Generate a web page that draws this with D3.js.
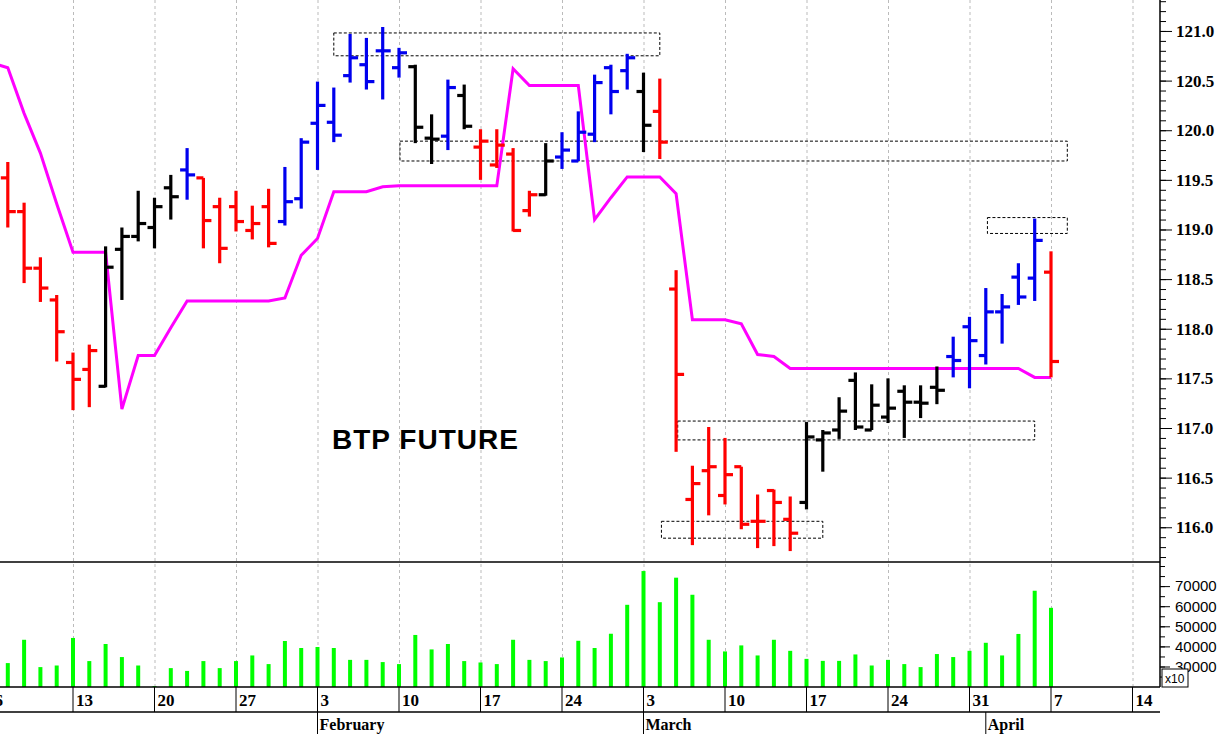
<!DOCTYPE html>
<html>
<head>
<meta charset="utf-8">
<script src="https://cdn.jsdelivr.net/npm/d3@7"></script>
<style>
  body { margin: 0; background: #fff; }
  svg { display: block; }
</style>
</head>
<body>
<svg id="chart" width="1231" height="734"></svg>
<script>
// trading days from 7 Jan 2014, one bar each
const firstDate = new Date(2014, 0, 7);
const open  = [119.52,119.18,118.61,118.29,117.66,117.59,117.42,118.80,118.93,119.02,119.42,119.60,119.52,119.23,119.23,118.99,119.23,119.08,119.31,120.07,120.08,120.55,120.66,120.80,120.63,120.64,119.92,119.94,120.35,119.83,119.65,119.76,119.19,119.35,119.73,119.69,119.96,120.63,120.60,120.39,120.19,118.40,116.28,116.57,116.32,116.61,116.06,116.37,116.08,116.25,116.88,116.98,117.48,116.98,117.11,117.37,117.26,117.41,117.72,118.02,117.73,118.17,118.52,118.51,118.57];
const high  = [119.68,119.27,118.72,118.34,117.76,117.84,118.83,119.02,119.39,119.32,119.55,119.82,119.52,119.32,119.39,119.24,119.41,119.63,119.92,120.49,120.43,120.97,120.93,121.04,120.83,120.66,120.16,120.51,120.46,120.01,120.01,119.82,119.39,119.87,119.98,120.19,120.56,120.66,120.77,120.58,120.52,118.59,116.62,117.01,116.90,116.61,116.33,116.38,116.31,117.06,116.98,117.31,117.56,117.44,117.50,117.43,117.43,117.62,117.92,118.12,118.41,118.35,118.66,119.11,118.78];
const low   = [119.02,118.46,118.27,117.67,117.18,117.21,117.41,118.29,118.88,118.81,119.10,119.30,118.81,118.66,118.98,118.90,118.82,119.04,119.21,119.60,119.88,120.48,120.41,120.31,120.53,119.87,119.66,119.80,120.01,119.50,119.62,118.98,119.13,119.34,119.61,119.69,119.88,120.16,120.41,119.78,119.71,116.76,115.82,116.12,116.23,115.98,115.79,115.81,115.76,116.18,116.56,116.89,116.98,116.98,117.05,116.90,117.10,117.24,117.51,117.40,117.64,117.85,118.24,118.28,117.51];
const close = [119.18,118.61,118.41,117.97,117.49,117.78,118.62,118.93,119.06,119.23,119.33,119.55,119.09,118.81,119.08,119.06,118.86,119.28,119.88,120.25,119.95,120.73,120.49,120.80,120.78,120.03,119.91,120.43,120.04,119.89,119.85,118.99,119.35,119.69,119.80,119.98,120.48,120.39,120.73,120.05,119.88,117.54,116.44,116.61,116.53,116.03,116.06,116.25,115.94,116.91,116.95,117.17,117.01,117.23,117.20,117.26,117.25,117.38,117.68,117.88,118.17,118.22,118.32,118.89,117.67];
// r = red, k = black, b = blue
const barColor = "rrrrrrkkkkkbrrrrrbbbbbbbbkkbkrrrrkbbbbbkrrrrrrrrrkkkkkkkkkbbbbbbr".split("");
// stop line starts one day earlier (6 Jan) than the bars
const stopLine = [120.68,120.63,120.17,119.77,119.26,118.77,118.77,118.77,117.19,117.73,117.73,118.01,118.28,118.28,118.28,118.28,118.28,118.28,118.31,118.74,118.91,119.38,119.38,119.38,119.43,119.44,119.44,119.44,119.44,119.44,119.44,119.44,120.62,120.45,120.45,120.45,120.45,119.10,119.32,119.53,119.53,119.53,119.36,118.09,118.09,118.09,118.05,117.74,117.72,117.60,117.60,117.60,117.60,117.60,117.60,117.60,117.60,117.60,117.60,117.60,117.60,117.60,117.60,117.60,117.51,117.51];
const volume = [31700,43300,29700,30500,44200,32700,41200,34700,30500,20300,29200,27800,32700,29200,32700,35500,31200,42700,39200,39700,39200,33300,33300,32200,31200,45700,38500,41200,32700,32000,31200,43300,33300,32700,34500,42800,39200,46300,60700,77500,62000,74200,65700,43300,37500,40500,35500,43300,37800,33800,32800,32800,36000,30500,33300,31200,29700,36200,34700,37800,41800,35500,46200,67700,59200];
// dotted boxes: trading-day span and price span
const boxFrom   = [16, 20.06, 37.1, 36.1, 56.1];
const boxTo     = [36, 61, 59, 46, 61];
const boxTop    = [120.98, 119.89, 117.07, 116.06, 119.12];
const boxBottom = [120.75, 119.69, 116.88, 115.89, 118.96];
const priceTicks = [116.0, 116.5, 117.0, 117.5, 118.0, 118.5, 119.0, 119.5, 120.0, 120.5, 121.0];
const volumeTicks = [30000, 40000, 50000, 60000, 70000];
const months = [{name: "February", date: new Date(2014, 1, 3)}, {name: "March", date: new Date(2014, 2, 3)}, {name: "April", date: new Date(2014, 3, 1)}];
const title = "BTP FUTURE";

// trading-day index, Monday 13 Jan 2014 = 0
const base = new Date(2014, 0, 13);
const dayIndex = d => {
  const days = Math.round((d - base) / 864e5);
  return Math.floor(days / 7) * 5 + (d.getDay() + 6) % 7;
};
const k0 = dayIndex(firstDate);

const svg = d3.select("#chart");
const axisX = 1160, priceBottom = 562, volBottom = 687;
const x = d3.scaleLinear().domain([0, 60]).range([73, 1051]);
const y = d3.scaleLinear().domain([115.65, 121.312]).range([priceBottom, 0]);
const yv = d3.scaleLinear().domain([19800, 82000]).range([volBottom, priceBottom]);

const mondays = d3.timeMonday.range(new Date(2014, 0, 6), new Date(2014, 3, 15));

// grid
svg.append("g").selectAll("line").data(mondays).join("line")
  .attr("x1", d => x(dayIndex(d)) + 0.5).attr("x2", d => x(dayIndex(d)) + 0.5)
  .attr("y1", 0).attr("y2", volBottom)
  .attr("stroke", "#bbb").attr("stroke-dasharray", "3,3");

// boxes
svg.append("g").selectAll("rect").data(boxFrom).join("rect")
  .attr("x", (d, i) => x(d)).attr("width", (d, i) => x(boxTo[i]) - x(d))
  .attr("y", (d, i) => y(boxTop[i])).attr("height", (d, i) => y(boxBottom[i]) - y(boxTop[i]))
  .attr("fill", "none").attr("stroke", "#000").attr("stroke-width", 1).attr("stroke-dasharray", "3,2");

// stop line
svg.append("path").datum(stopLine)
  .attr("d", d3.line().x((d, i) => x(k0 - 1 + i)).y(d => y(d)))
  .attr("fill", "none").attr("stroke", "#ff00ff").attr("stroke-width", 3);

// OHLC bars
const colors = {r: "#ff0000", k: "#000000", b: "#0000ee"};
const bars = svg.append("g").selectAll("g").data(open).join("g")
  .attr("stroke", (d, i) => colors[barColor[i]]).attr("stroke-width", 3.2);
bars.append("line").attr("x1", (d, i) => x(k0 + i)).attr("x2", (d, i) => x(k0 + i))
  .attr("y1", (d, i) => y(high[i])).attr("y2", (d, i) => y(low[i]));
bars.append("line").attr("x1", (d, i) => x(k0 + i) - 7).attr("x2", (d, i) => x(k0 + i))
  .attr("y1", d => y(d)).attr("y2", d => y(d));
bars.append("line").attr("x1", (d, i) => x(k0 + i)).attr("x2", (d, i) => x(k0 + i) + 8)
  .attr("y1", (d, i) => y(close[i])).attr("y2", (d, i) => y(close[i]));

// volume
svg.append("g").selectAll("line").data(volume).join("line")
  .attr("x1", (d, i) => x(k0 + i)).attr("x2", (d, i) => x(k0 + i))
  .attr("y1", volBottom).attr("y2", d => yv(d))
  .attr("stroke", "#00ff00").attr("stroke-width", 4);

// title
svg.append("text").attr("x", 332).attr("y", 449).text(title)
  .attr("font-family", "Liberation Sans, Arial").attr("font-weight", "bold").attr("font-size", 28)
  .attr("textLength", 186);

// frame lines
const frame = svg.append("g").attr("stroke", "#000").attr("stroke-width", 1.5);
frame.append("line").attr("x1", axisX).attr("x2", axisX).attr("y1", 0).attr("y2", volBottom);
frame.append("line").attr("x1", 0).attr("x2", axisX).attr("y1", priceBottom).attr("y2", priceBottom);
frame.append("line").attr("x1", 0).attr("x2", axisX).attr("y1", volBottom).attr("y2", volBottom);
frame.append("line").attr("x1", 0).attr("x2", axisX).attr("y1", 712).attr("y2", 712);

// price axis
const pAxis = svg.append("g").attr("transform", `translate(${axisX},0)`);
pAxis.call(d3.axisRight(y).tickValues(d3.range(115.7, 121.35, 0.1)).tickSize(6).tickFormat(""))
  .call(g => g.select(".domain").remove());
pAxis.append("g").call(d3.axisRight(y).tickValues(priceTicks).tickSize(12).tickFormat(d3.format(".1f")).tickPadding(4))
  .call(g => g.select(".domain").remove())
  .selectAll("text").attr("font-family", "Liberation Serif, Times New Roman").attr("font-weight", "bold").attr("font-size", 17).attr("fill", "#000");

// volume axis
const vAxis = svg.append("g").attr("transform", `translate(${axisX},0)`);
vAxis.call(d3.axisRight(yv).tickValues(d3.range(25000, 82000, 5000)).tickSize(5).tickFormat(""))
  .call(g => g.select(".domain").remove());
vAxis.append("g").call(d3.axisRight(yv).tickValues(volumeTicks).tickSize(10).tickFormat(d3.format("d")).tickPadding(5))
  .call(g => g.select(".domain").remove())
  .selectAll("text").attr("font-family", "Liberation Sans, Arial").attr("font-size", 15).attr("fill", "#000");
svg.append("rect").attr("x", 1162).attr("y", 669).attr("width", 26).attr("height", 18)
  .attr("fill", "#fff").attr("stroke", "#000").attr("stroke-width", 1);
svg.append("text").attr("x", 1165).attr("y", 683).text("x10")
  .attr("font-family", "Liberation Sans, Arial").attr("font-size", 12);

// date axis
const dAxis = svg.append("g");
dAxis.selectAll("line").data(mondays).join("line")
  .attr("x1", d => x(dayIndex(d))).attr("x2", d => x(dayIndex(d)))
  .attr("y1", volBottom).attr("y2", 712).attr("stroke", "#000");
dAxis.selectAll("text").data(mondays).join("text")
  .attr("x", d => x(dayIndex(d)) + 3).attr("y", 706).text(d => d.getDate())
  .attr("font-family", "Liberation Serif, Times New Roman").attr("font-weight", "bold").attr("font-size", 17);
const mAxis = svg.append("g");
mAxis.selectAll("line").data(months).join("line")
  .attr("x1", d => x(dayIndex(d.date))).attr("x2", d => x(dayIndex(d.date)))
  .attr("y1", 712).attr("y2", 734).attr("stroke", "#000");
mAxis.selectAll("text").data(months).join("text")
  .attr("x", d => x(dayIndex(d.date)) + 2).attr("y", 730).text(d => d.name)
  .attr("font-family", "Liberation Serif, Times New Roman").attr("font-weight", "bold").attr("font-size", 16);
</script>
</body>
</html>
